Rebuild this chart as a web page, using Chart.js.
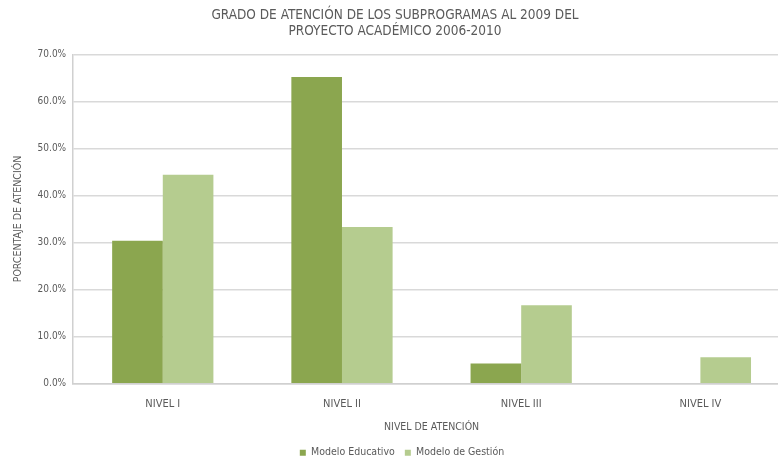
<!DOCTYPE html>
<html>
<head>
<meta charset="utf-8">
<script src="https://cdn.jsdelivr.net/npm/chart.js@4"></script>
<style>
  html, body { margin: 0; padding: 0; background: #fff; overflow: hidden; }
  #wrap { width: 792px; height: 468px; }
</style>
</head>
<body>
<div id="wrap"><canvas id="chart"></canvas></div>
<script>
// Data
const niveles = ['NIVEL I', 'NIVEL II', 'NIVEL III', 'NIVEL IV'];
const modeloEducativo = [30.4, 65.2, 4.3, 0];
const modeloGestion = [44.4, 33.3, 16.7, 5.6];
const yTicks = [0, 10, 20, 30, 40, 50, 60, 70];

const FONT = "'Liberation Sans Narrow', 'DejaVu Sans Condensed', 'Liberation Sans', sans-serif";
const TEXT = '#5a5a5a';

// legend sits a little right of the canvas centre in the original
const legendShift = {
    id: 'legendShift',
    afterLayout(chart) {
        chart.legend.left += 7;
        chart.legend.right += 7;
    }
};

new Chart(document.getElementById('chart'), {
    type: 'bar',
    data: {
        labels: niveles,
        datasets: [
            { label: 'Modelo Educativo', data: modeloEducativo, backgroundColor: '#8ba64f' },
            { label: 'Modelo de Gestión', data: modeloGestion, backgroundColor: '#b5cc8f' }
        ]
    },
    options: {
        responsive: true,
        maintainAspectRatio: false,
        animation: false,
        categoryPercentage: 0.565,
        barPercentage: 1.0,
        layout: { padding: { left: 0, right: 2, top: 3, bottom: 0 } },
        plugins: {
            tooltip: { enabled: false },
            title: {
                display: true,
                text: ['GRADO DE ATENCIÓN DE LOS SUBPROGRAMAS AL 2009 DEL', 'PROYECTO ACADÉMICO 2006-2010'],
                color: TEXT,
                font: { family: FONT, size: 13.5, weight: 'normal', lineHeight: 1.2 },
                padding: { top: 4, bottom: 15 }
            },
            legend: {
                position: 'bottom',
                labels: {
                    color: TEXT,
                    font: { family: FONT, size: 10.5 },
                    boxWidth: 6,
                    boxHeight: 6,
                    padding: 10
                }
            }
        },
        scales: {
            x: {
                grid: { display: false, drawTicks: false },
                border: { color: '#d0d0d0', width: 1.5 },
                ticks: { color: TEXT, font: { family: FONT, size: 11 }, padding: 14 },
                title: {
                    display: true,
                    text: 'NIVEL DE ATENCIÓN',
                    color: TEXT,
                    font: { family: FONT, size: 10.5 },
                    padding: { top: -4, bottom: 4 }
                }
            },
            y: {
                min: 0,
                max: 70,
                afterBuildTicks(scale) {
                    scale.ticks = yTicks.map(v => ({ value: v }));
                },
                grid: { color: '#d9d9d9', lineWidth: 1.5, drawTicks: false },
                border: { color: '#d0d0d0', width: 1.5 },
                ticks: {
                    color: TEXT,
                    font: { family: FONT, size: 10 },
                    padding: 7,
                    callback: v => v.toFixed(1) + '%'
                },
                title: {
                    display: true,
                    text: 'PORCENTAJE DE ATENCIÓN',
                    color: TEXT,
                    font: { family: FONT, size: 10.5 },
                    padding: { top: 12, bottom: 6 }
                }
            }
        }
    },
    plugins: [legendShift]
});
</script>
</body>
</html>
